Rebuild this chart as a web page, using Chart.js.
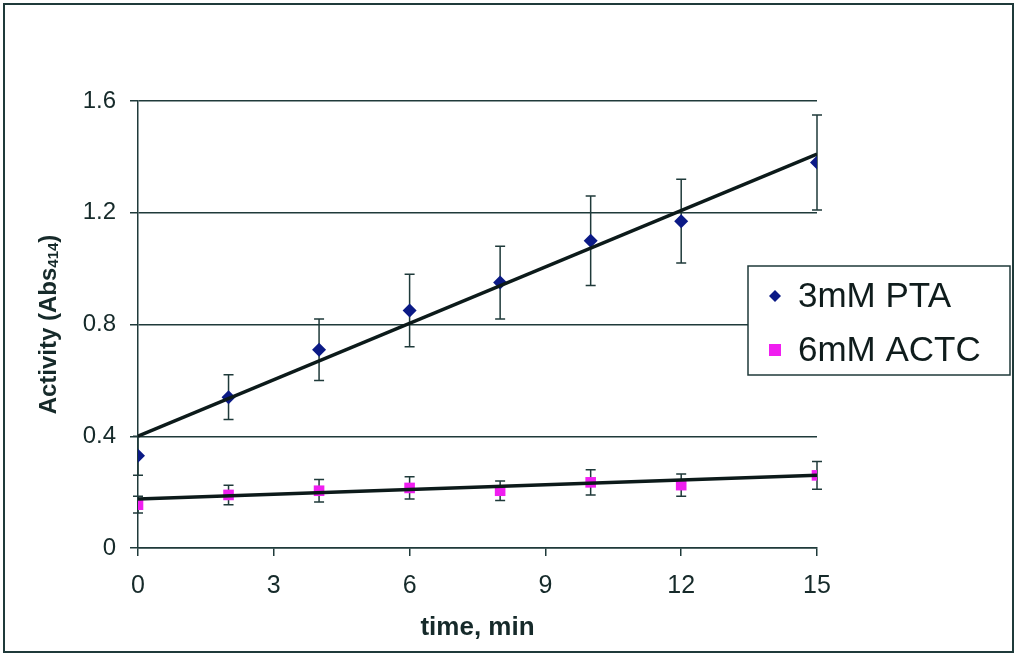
<!DOCTYPE html>
<html>
<head>
<meta charset="utf-8">
<script src="https://cdn.jsdelivr.net/npm/chart.js@4/dist/chart.umd.min.js"></script>
<style>
  html, body { margin: 0; padding: 0; background: #ffffff; }
  #wrap { width: 1018px; height: 655px; position: relative; }
</style>
</head>
<body>
<div id="wrap"><canvas id="c" width="1018" height="655"></canvas></div>
<script>
// ---- data ----
const timeMin = [0, 2, 4, 6, 8, 10, 12, 15];
const ptaValues = [0.33, 0.54, 0.71, 0.85, 0.95, 1.10, 1.17, 1.38];
const ptaErrors = [0.07, 0.08, 0.11, 0.13, 0.13, 0.16, 0.15, 0.17];
const actcValues = [0.155, 0.19, 0.205, 0.215, 0.205, 0.235, 0.225, 0.26];
const actcErrors = [0.03, 0.035, 0.04, 0.04, 0.035, 0.045, 0.04, 0.05];
const trendX = [0, 15];
const ptaTrend = [0.40, 1.41];
const actcTrend = [0.175, 0.26];
const xTickValues = [0, 3, 6, 9, 12, 15];
const yTickValues = [0, 0.4, 0.8, 1.2, 1.6];
const seriesLabels = ['3mM PTA', '6mM ACTC'];
const yTitleMain = 'Activity (Abs';
const yTitleSub = '414';
const yTitleEnd = ')';
const xTitle = 'time, min';

const INK = '#1f3a3a';
const TEXT = '#162a2a';
const LINE = '#0c1a1a';
const NAVY = '#0b1a86';
const PINK = '#f01ef0';

const toPts = (xs, ys) => xs.map((x, i) => ({ x: x, y: ys[i] }));

const errorBarPlugin = {
  id: 'errorBars',
  beforeDatasetsDraw(chart) {
    const ctx = chart.ctx;
    const xs = chart.scales.x, ys = chart.scales.y;
    ctx.save();
    ctx.strokeStyle = INK;
    ctx.lineWidth = 1.5;
    chart.data.datasets.forEach(ds => {
      if (!ds.errors) return;
      ds.data.forEach((p, i) => {
        const e = ds.errors[i];
        const px = xs.getPixelForValue(p.x);
        const top = ys.getPixelForValue(p.y + e);
        const bot = ys.getPixelForValue(p.y - e);
        ctx.beginPath();
        ctx.moveTo(px, top); ctx.lineTo(px, bot);
        ctx.moveTo(px - 5, top); ctx.lineTo(px + 5, top);
        ctx.moveTo(px - 5, bot); ctx.lineTo(px + 5, bot);
        ctx.stroke();
      });
    });
    ctx.restore();
  }
};

const decorPlugin = {
  id: 'decor',
  afterDraw(chart) {
    const ctx = chart.ctx;
    const area = chart.chartArea;
    ctx.save();
    // outer frame
    ctx.strokeStyle = INK;
    ctx.lineWidth = 2;
    ctx.strokeRect(4, 4, 1009, 648);

    // y axis title with subscript
    ctx.fillStyle = TEXT;
    ctx.translate(49, (area.top + area.bottom) / 2);
    ctx.rotate(-Math.PI / 2);
    const fMain = 'bold 24px "Liberation Sans", Arial, sans-serif';
    const fSub = 'bold 15px "Liberation Sans", Arial, sans-serif';
    ctx.font = fMain; const w1 = ctx.measureText(yTitleMain).width; const w3 = ctx.measureText(yTitleEnd).width;
    ctx.font = fSub; const w2 = ctx.measureText(yTitleSub).width;
    let sx = -(w1 + w2 + w3) / 2;
    ctx.textBaseline = 'middle';
    ctx.textAlign = 'left';
    ctx.font = fMain; ctx.fillText(yTitleMain, sx, 0); sx += w1;
    ctx.font = fSub; ctx.fillText(yTitleSub, sx, 5); sx += w2;
    ctx.font = fMain; ctx.fillText(yTitleEnd, sx, 0);
    ctx.restore();

    // x axis title
    ctx.save();
    ctx.fillStyle = TEXT;
    ctx.font = 'bold 26px "Liberation Sans", Arial, sans-serif';
    ctx.textAlign = 'center';
    ctx.textBaseline = 'alphabetic';
    ctx.fillText(xTitle, (area.left + area.right) / 2, 635);
    ctx.restore();

    // legend box
    ctx.save();
    const bx = 748, by = 266, bw = 262, bh = 109;
    ctx.fillStyle = '#ffffff';
    ctx.fillRect(bx, by, bw, bh);
    ctx.strokeStyle = INK;
    ctx.lineWidth = 1.5;
    ctx.strokeRect(bx, by, bw, bh);
    ctx.font = '35px "Liberation Sans", Arial, sans-serif';
    ctx.textBaseline = 'middle';
    ctx.textAlign = 'left';
    const legendSets = chart.data.datasets.filter(d => d.errors);
    legendSets.forEach((ds, i) => {
      const cy = by + 30 + i * 54;
      ctx.fillStyle = ds.backgroundColor;
      ctx.beginPath();
      if (ds.pointStyle === 'rectRot') {
        ctx.moveTo(775, cy - 6); ctx.lineTo(781, cy); ctx.lineTo(775, cy + 6); ctx.lineTo(769, cy);
        ctx.closePath(); ctx.fill();
      } else {
        ctx.fillRect(769, cy - 6, 12, 12);
      }
      ctx.fillStyle = '#0f1c1c';
      ctx.fillText(ds.label, 798, cy + 1);
    });
    ctx.restore();
  }
};

new Chart(document.getElementById('c'), {
  type: 'scatter',
  data: {
    datasets: [
      { label: 'trend PTA', data: toPts(trendX, ptaTrend), showLine: true, borderColor: LINE, borderWidth: 3.5, pointRadius: 0, order: 0 },
      { label: 'trend ACTC', data: toPts(trendX, actcTrend), showLine: true, borderColor: LINE, borderWidth: 3.5, pointRadius: 0, order: 0 },
      { label: seriesLabels[0], data: toPts(timeMin, ptaValues), errors: ptaErrors, pointStyle: 'rectRot', pointRadius: 7, backgroundColor: NAVY, borderColor: NAVY, borderWidth: 0, order: 1 },
      { label: seriesLabels[1], data: toPts(timeMin, actcValues), errors: actcErrors, pointStyle: 'rect', pointRadius: 7.5, backgroundColor: PINK, borderColor: PINK, borderWidth: 0, order: 1 }
    ]
  },
  options: {
    responsive: false,
    animation: false,
    events: [],
    layout: { padding: { left: 0, right: 201, top: 101, bottom: 0 } },
    plugins: { legend: { display: false }, tooltip: { enabled: false } },
    scales: {
      x: {
        type: 'linear', min: 0, max: 15,
        afterBuildTicks: s => { s.ticks = xTickValues.map(v => ({ value: v })); },
        afterFit: s => { s.height = 107; },
        grid: { drawOnChartArea: false, color: INK, lineWidth: 1.5, tickLength: 8 },
        border: { display: true, color: INK, width: 1.5 },
        ticks: { color: TEXT, padding: 15, font: { family: '"Liberation Sans", Arial, sans-serif', size: 25 }, maxRotation: 0 }
      },
      y: {
        type: 'linear', min: 0, max: 1.6,
        afterBuildTicks: s => { s.ticks = yTickValues.map(v => ({ value: v })); },
        afterFit: s => { s.width = 138; },
        grid: { color: INK, lineWidth: 1.5, tickLength: 8 },
        border: { display: true, color: INK, width: 1.5 },
        ticks: { color: TEXT, padding: 14, font: { family: '"Liberation Sans", Arial, sans-serif', size: 24 },
          callback: v => String(v) }
      }
    }
  },
  plugins: [errorBarPlugin, decorPlugin]
});
</script>
</body>
</html>
